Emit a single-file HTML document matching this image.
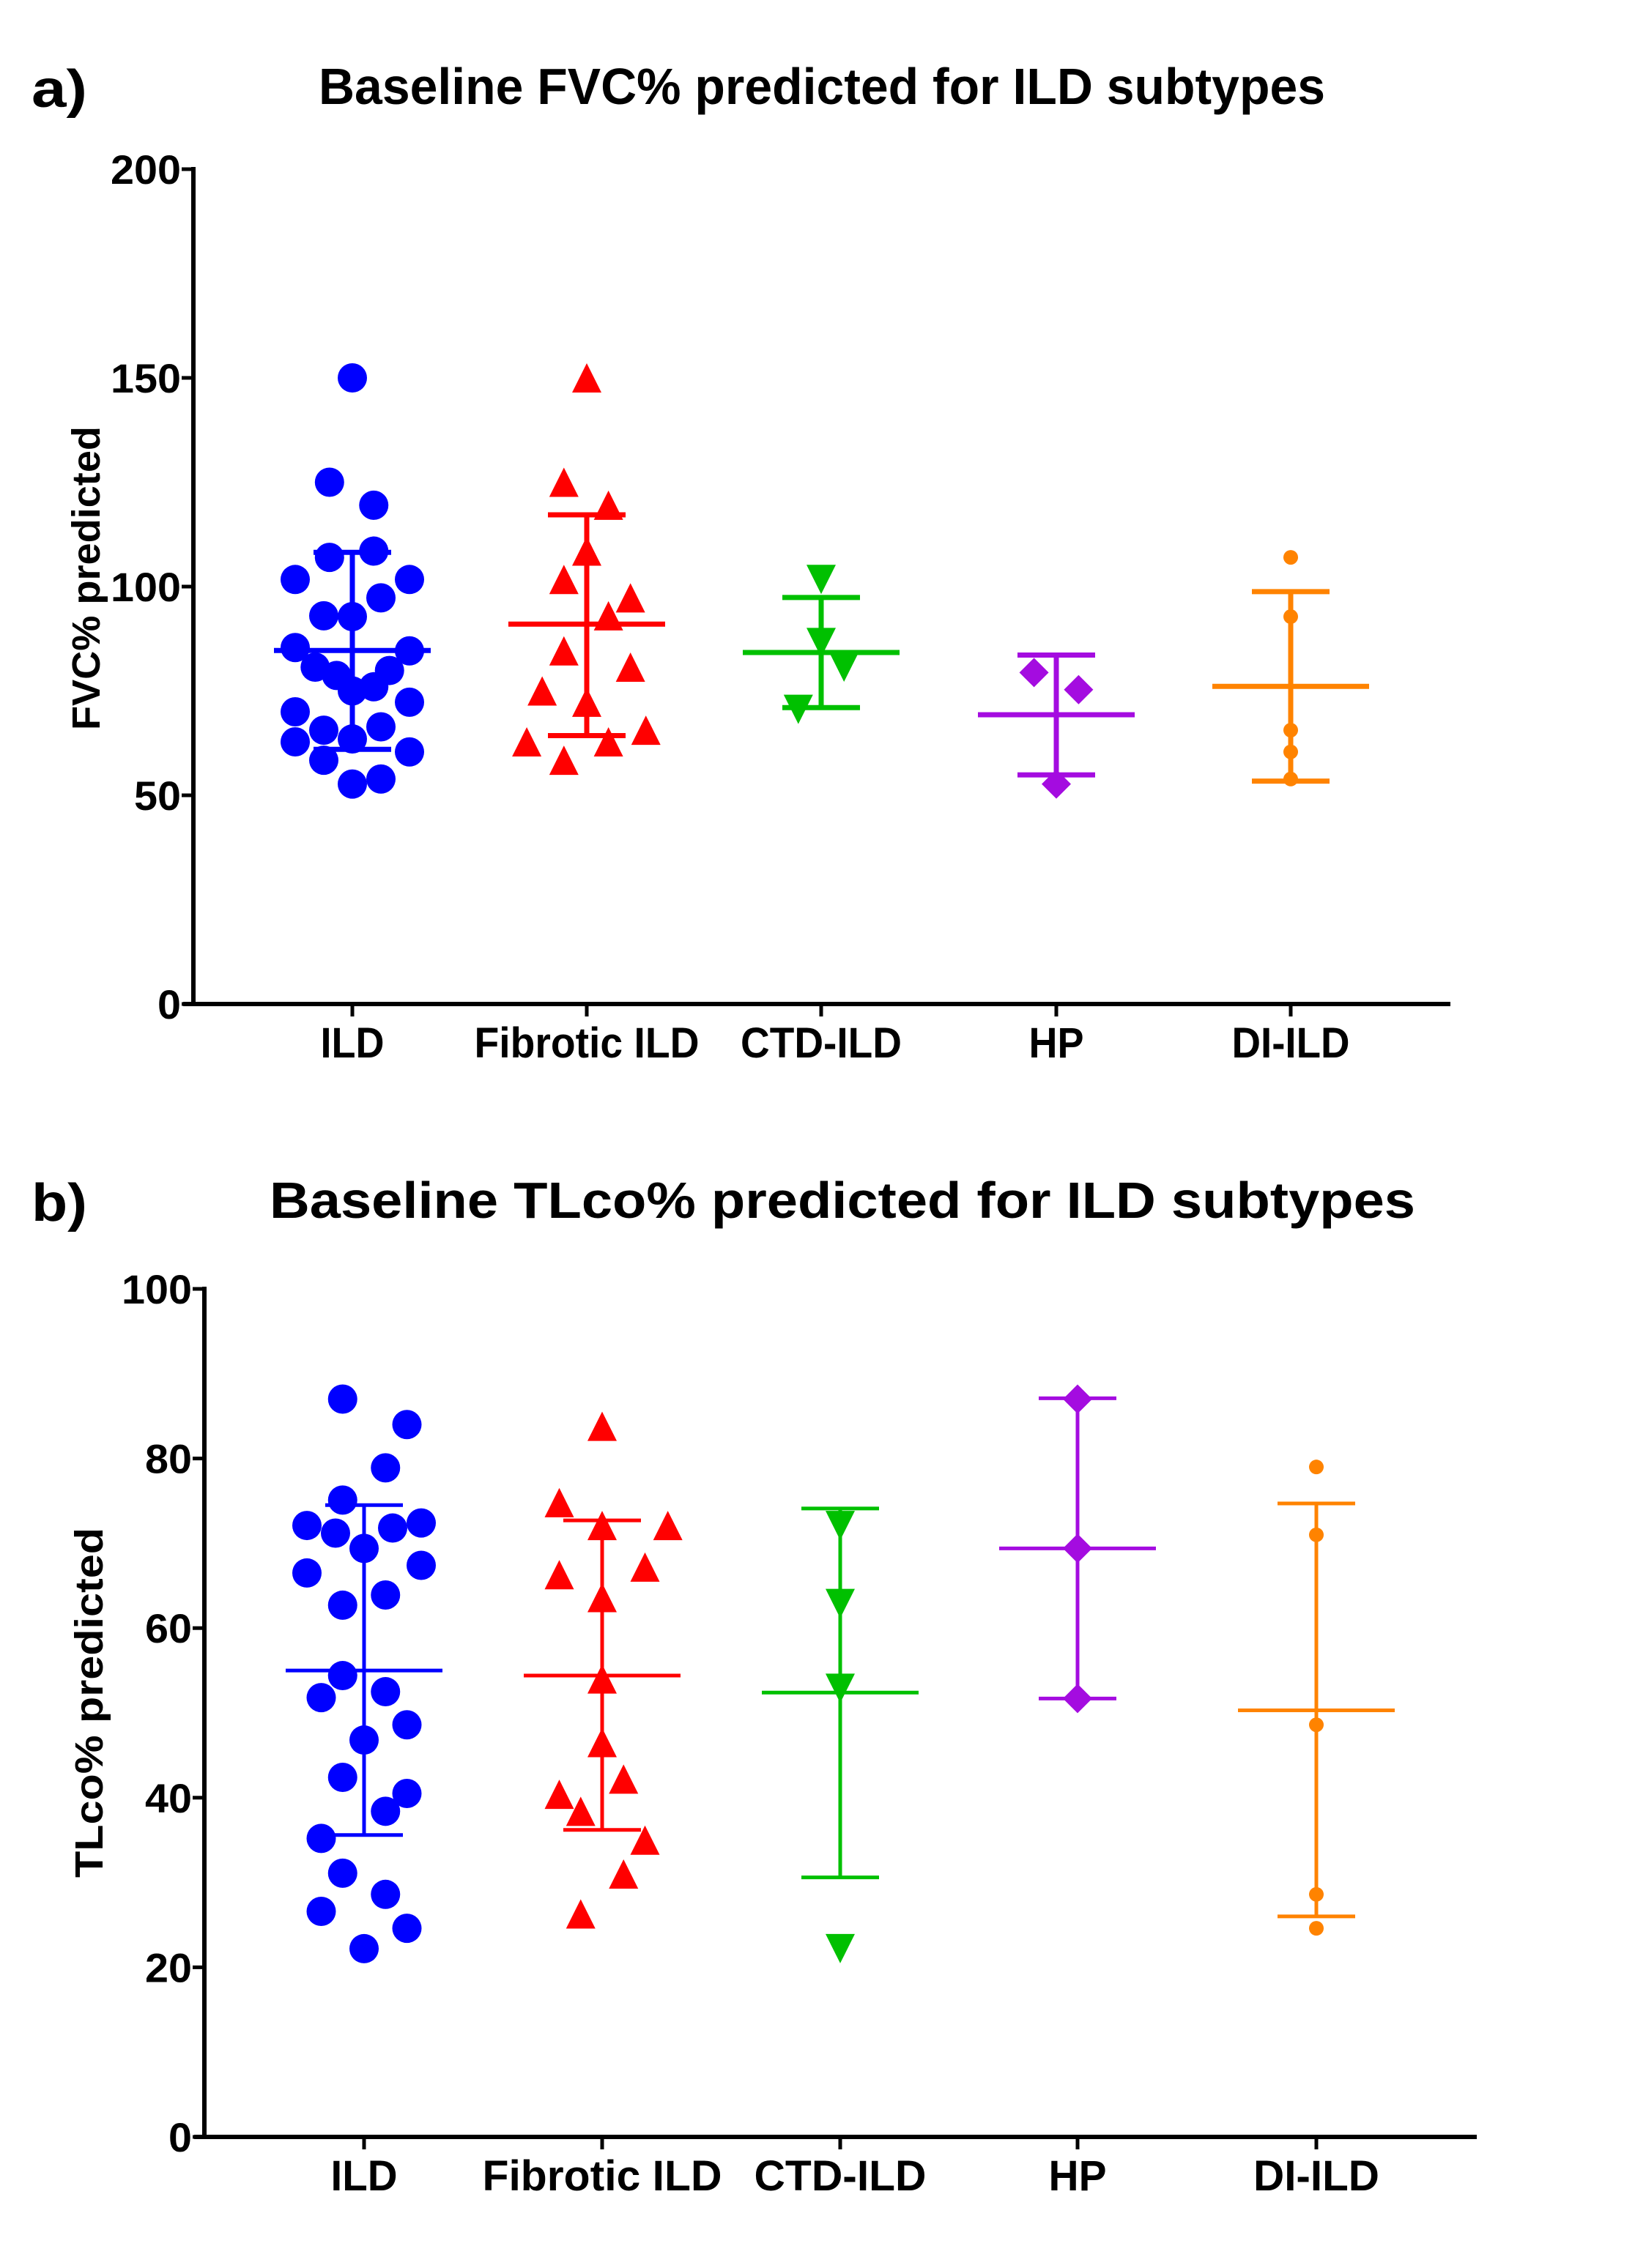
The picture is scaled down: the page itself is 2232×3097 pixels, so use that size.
<!DOCTYPE html>
<html><head><meta charset="utf-8"><style>
html,body{margin:0;padding:0;background:#fff;}
svg{display:block;}
text{font-family:"Liberation Sans",Arial,sans-serif;font-weight:bold;fill:#000;}
</style></head><body>
<svg id="fig" width="2232" height="3097" viewBox="0 0 2232 3097" xmlns="http://www.w3.org/2000/svg"></svg>
<script>
// ---------- Data ----------
const categories = ["ILD","Fibrotic ILD","CTD-ILD","HP","DI-ILD"];
const colors = ["#0000ff","#ff0000","#00c000","#a40ce0","#ff8300"];
const markers = ["circle","triangle","triangle-down","diamond","dot"];

// Panel a: FVC% predicted
const fvcILD = [150,125,119.5,107,108.5,101.7,101.7,97.3,93,92.8,85.4,84.6,80.7,79.9,78.7,76,75,72.3,70,65.6,66.4,63.5,62.8,60.4,58.4,52.7,53.9];
const fvcILDJit = [0,-0.8,0.75,-0.8,0.75,-2,2,1,-1,0,-2,2,-1.3,1.3,-0.55,0.75,0,2,-2,-1,1,0,-2,2,-1,0,1];
const fvcFib = [150,125,119.5,108.5,101.7,97.3,93,84.6,80.7,75,72.3,62.8,62.8,65.6,58.4];
const fvcFibJit = [0,-0.8,0.76,0,-0.8,1.53,0.76,-0.8,1.53,-1.56,0,-2.1,0.76,2.07,-0.8];
const fvcCTD = [101.7,86.6,80.7,70.6];
const fvcCTDJit = [0,0,0.8,-0.8];
const fvcHP = [79.4,75.3,52.7];
const fvcHPJit = [-0.78,0.78,0];
const fvcDI = [107,92.8,65.6,60.4,53.9];
const fvcDIJit = [0,0,0,0,0];
const fvcMean = [84.7,91,84.2,69.3,76.1];
const fvcSDHi = [108.2,117.2,97.4,83.6,98.8];
const fvcSDLo = [61,64.3,71,54.9,53.4];
const fvcTicks = [0,50,100,150,200];

// Panel b: TLco% predicted
const tlILD = [87,84,78.9,75.1,72.1,71.2,71.8,72.4,69.4,66.5,67.4,62.7,63.9,54.4,51.8,52.5,48.6,46.8,42.4,40.5,38.4,35.2,31.1,28.6,26.6,24.6,22.2];
const tlILDJit = [-0.75,1.5,0.75,-0.75,-2,-1,1,2,0,-2,2,-0.75,0.75,-0.75,-1.5,0.75,1.5,0,-0.75,1.5,0.75,-1.5,-0.75,0.75,-1.5,1.5,0];
const tlFib = [83.8,74.8,72.1,72.1,66.3,67.2,63.6,54,46.5,42.2,40.4,38.4,35,31,26.3];
const tlFibJit = [0,-1.5,0,2.3,-1.5,1.5,0,0,0,0.75,-1.5,-0.75,1.5,0.75,-0.75];
const tlCTD = [72.1,62.9,52.9,22.2];
const tlCTDJit = [0,0,0,0];
const tlHP = [87,69.4,51.7];
const tlHPJit = [0,0,0];
const tlDI = [79,71,48.6,28.6,24.6];
const tlDIJit = [0,0,0,0,0];
const tlMean = [55,54.4,52.4,69.4,50.3];
const tlSDHi = [74.5,72.7,74.1,87.1,74.7];
const tlSDLo = [35.6,36.2,30.6,51.7,26];
const tlTicks = [0,20,40,60,80,100];

// ---------- Drawing ----------
const NS = "http://www.w3.org/2000/svg";
const svg = document.getElementById("fig");
function mk(tag, attrs, parent){
  const e = document.createElementNS(NS, tag);
  for (const k in attrs) e.setAttribute(k, attrs[k]);
  (parent||svg).appendChild(e);
  return e;
}

function drawPanel(cfg){
  const g = mk("g", {});
  
  
  const yScale = v => cfg.y0 + (cfg.yTop - cfg.y0) * (v - 0) / (cfg.yMax - 0);
  const xScale = i => cfg.xCats[i];
  const jitUnit = 39;

  // panel letter
  const lt = mk("text", {x:43, y:cfg.letterY, "font-size":72, textLength:76, lengthAdjust:"spacingAndGlyphs"}, g);
  lt.textContent = cfg.letter;
  
  
  // title
  const tt = mk("text", {x:cfg.titleX1, y:cfg.titleY, "font-size":70, textLength:cfg.titleX2-cfg.titleX1, lengthAdjust:"spacingAndGlyphs"}, g);
  tt.textContent = cfg.title;
  
  
  // y axis title
  const yc = (cfg.yt1 + cfg.yt2) / 2;
  const yt = mk("text", {x:0, y:0, "font-size":54, "text-anchor":"middle", textLength:cfg.yt2-cfg.yt1, lengthAdjust:"spacingAndGlyphs", transform:`translate(${cfg.ytX},${yc}) rotate(-90)`}, g);
  yt.textContent = cfg.yTitle;
  
  

  // axes
  const ya = mk("line", {x1:cfg.xAxis, y1:cfg.yTop-3, x2:cfg.xAxis, y2:cfg.y0+3, stroke:"#000", "stroke-width":6}, g);
  
  
  const xa = mk("line", {x1:cfg.xAxis-14, y1:cfg.y0, x2:cfg.xEnd, y2:cfg.y0, stroke:"#000", "stroke-width":6}, g);
  
  

  cfg.ticks.forEach(t => {
    const y = yScale(t);
    const tk = mk("line", {x1:cfg.xAxis-16, y1:y, x2:cfg.xAxis, y2:y, stroke:"#000", "stroke-width":5}, g);
    
    
    const s = String(t);
    const tl = mk("text", {x:cfg.xAxis-17, y:y+20, "font-size":56, "text-anchor":"end", textLength:s.length*32, lengthAdjust:"spacingAndGlyphs"}, g);
    tl.textContent = s;
    
    
  });

  categories.forEach((c, i) => {
    const x = xScale(i);
    const tk = mk("line", {x1:x, y1:cfg.y0, x2:x, y2:cfg.y0+17, stroke:"#000", "stroke-width":5}, g);
    
    
    const w = cfg.catW[i];
    const cl = mk("text", {x:x, y:cfg.catY, "font-size":58, "text-anchor":"middle", textLength:w, lengthAdjust:"spacingAndGlyphs"}, g);
    cl.textContent = c;
    
    
  });

  // series
  cfg.series.forEach((vals, i) => {
    const col = colors[i];
    const cx = xScale(i);
    const sg = mk("g", {}, g);
    
    
    const jit = cfg.jitters[i];
    vals.forEach((v, k) => {
      const x = cx + jit[k] * jitUnit;
      const y = yScale(v);
      const m = cfg.msize;
      let el;
      if (markers[i] === "circle") el = mk("circle", {cx:x, cy:y, r:m, fill:col}, sg);
      else if (markers[i] === "triangle") el = mk("polygon", {points:`${x-m},${y+m} ${x+m},${y+m} ${x},${y-m}`, fill:col}, sg);
      else if (markers[i] === "triangle-down") el = mk("polygon", {points:`${x-m},${y-m} ${x+m},${y-m} ${x},${y+m}`, fill:col}, sg);
      else if (markers[i] === "diamond") el = mk("polygon", {points:`${x},${y-m} ${x+m},${y} ${x},${y+m} ${x-m},${y}`, fill:col}, sg);
      else el = mk("circle", {cx:x, cy:y, r:10, fill:col}, sg);
      
      
    });
    const lw = cfg.lw;
    const yHi = yScale(cfg.sdHi[i]), yLo = yScale(cfg.sdLo[i]), yM = yScale(cfg.mean[i]);
    const vl = mk("line", {x1:cx, y1:yHi, x2:cx, y2:yLo, stroke:col, "stroke-width":lw}, sg);
    
    
    const c1 = mk("line", {x1:cx-53, y1:yHi, x2:cx+53, y2:yHi, stroke:col, "stroke-width":lw}, sg);
    
    
    const c2 = mk("line", {x1:cx-53, y1:yLo, x2:cx+53, y2:yLo, stroke:col, "stroke-width":lw}, sg);
    
    
    const ml = mk("line", {x1:cx-107, y1:yM, x2:cx+107, y2:yM, stroke:col, "stroke-width":lw}, sg);
    
    
  });
}

drawPanel({
  id:"fvc", letter:"a)", letterY:146, title:"Baseline FVC% predicted for ILD subtypes",
  titleX1:435, titleX2:1809, titleY:142,
  yTitle:"FVC% predicted", ytX:136, yt1:582, yt2:997,
  xAxis:264, xEnd:1980, yTop:231, y0:1371, yMax:200, ticks:fvcTicks,
  xCats:[481,801,1121,1442,1762], catY:1444, catW:[87,307,220,75,161],
  series:[fvcILD,fvcFib,fvcCTD,fvcHP,fvcDI],
  jitters:[fvcILDJit,fvcFibJit,fvcCTDJit,fvcHPJit,fvcDIJit],
  mean:fvcMean, sdHi:fvcSDHi, sdLo:fvcSDLo, msize:20, lw:7
});
drawPanel({
  id:"tlco", letter:"b)", letterY:1667, title:"Baseline TLco% predicted for ILD subtypes",
  titleX1:368, titleX2:1932, titleY:1663,
  yTitle:"TLco% predicted", ytX:140, yt1:2086, yt2:2564,
  xAxis:279, xEnd:2016, yTop:1760, y0:2918, yMax:100, ticks:tlTicks,
  xCats:[497,822,1147,1471,1797], catY:2991, catW:[91,327,235,79,172],
  series:[tlILD,tlFib,tlCTD,tlHP,tlDI],
  jitters:[tlILDJit,tlFibJit,tlCTDJit,tlHPJit,tlDIJit],
  mean:tlMean, sdHi:tlSDHi, sdLo:tlSDLo, msize:20, lw:5
});
</script>
</body></html>
